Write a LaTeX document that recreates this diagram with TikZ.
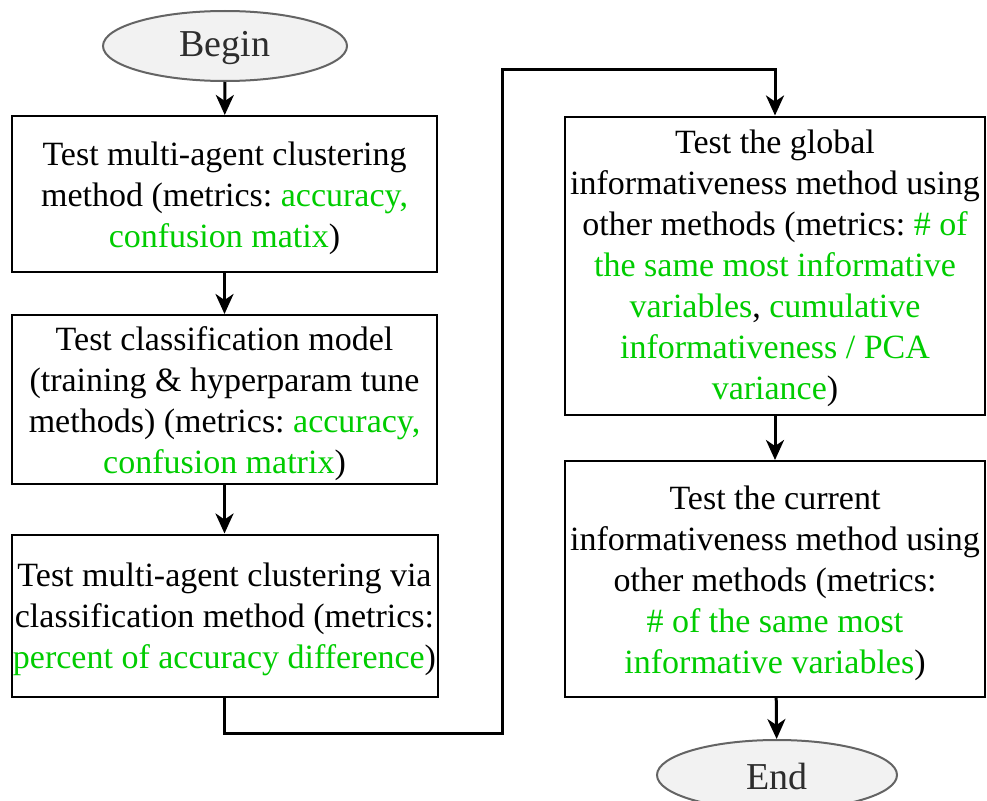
\documentclass[tikz,border=0pt]{standalone}
\usepackage{fontspec}
\setmainfont{Liberation Serif}
\frenchspacing
\usetikzlibrary{shapes.geometric,arrows.meta}
\definecolor{metric}{RGB}{0,204,0}
\definecolor{termfill}{RGB}{242,242,242}
\definecolor{termline}{RGB}{100,100,100}
\definecolor{termtext}{RGB}{45,45,45}
\newcommand{\mt}[1]{\textcolor{metric}{#1}}
\tikzset{
  stepbox/.style={draw=black, line width=2pt, rectangle, inner sep=0pt},
  steptext/.style={align=center, inner sep=0pt, font=\fontsize{34}{41}\selectfont},
  terminal/.style={draw=termline, fill=termfill, line width=2pt, ellipse, inner sep=0pt},
  termlabel/.style={inner sep=0pt, text=termtext, font=\fontsize{38}{44}\selectfont},
  flow/.style={line width=3pt, -{Stealth[length=20pt,width=18pt,inset=6pt]}},
}
\begin{document}
\begin{tikzpicture}[x=1pt,y=-1pt]
\useasboundingbox (0,0) rectangle (987,800);

% start and end terminals
\node[terminal, minimum width=244pt, minimum height=70pt] (begin) at (225,46) {};
\node[termlabel] (begintext) at ([yshift=-2pt]begin.center) {Begin};
\node[terminal, minimum width=240pt, minimum height=70pt] (end) at (777,775) {};
\node[termlabel] (endtext) at ([yshift=-1pt]end.center) {End};

% left column
\node[stepbox, minimum width=425pt, minimum height=156pt] (b1) at (224.5,194) {};
\node[steptext] (t1) at ([yshift=-4pt]b1.center)
  {Test multi-agent clustering\\method (metrics: \mt{accuracy,}\\\mt{confusion matix})};
\node[stepbox, minimum width=425pt, minimum height=169pt] (b2) at (224.5,399.5) {};
\node[steptext] (t2) at ([yshift=-4pt]b2.center)
  {Test classification model\\(training \& hyperparam tune\\methods) (metrics: \mt{accuracy,}\\\mt{confusion matrix})};
\node[stepbox, minimum width=426pt, minimum height=162pt] (b3) at (224.5,615.5) {};
\node[steptext] (t3) at ([yshift=-4pt]b3.center)
  {Test multi-agent clustering via\\classification method (metrics:\\\mt{percent of accuracy difference})};

% right column
\node[stepbox, minimum width=420pt, minimum height=298pt] (b4) at (775,265.5) {};
\node[steptext] (t4) at ([yshift=-3pt]b4.center)
  {Test the global\\informativeness method using\\other methods (metrics: \mt{\# of}\\\mt{the same most informative}\\\mt{variables}, \mt{cumulative}\\\mt{informativeness / PCA}\\\mt{variance})};
\node[stepbox, minimum width=420pt, minimum height=236pt] (b5) at (775,579) {};
\node[steptext] (t5) at ([yshift=-4pt]b5.center)
  {Test the current\\informativeness method using\\other methods (metrics:\\\mt{\# of the same most}\\\mt{informative variables})};

% bends of the long connector
\coordinate (low) at (502,733);
\coordinate (high) at (502,69);

\draw[flow] (begin) -- (b1);
\draw[flow] (b1) -- (b2);
\draw[flow] (b2) -- (b3);
\draw[flow] (b3.south) |- (low) -- (high) -| (b4.north);
\draw[flow] (b4) -- (b5);
\draw[flow] (b5) -- (end);
\end{tikzpicture}
\end{document}
